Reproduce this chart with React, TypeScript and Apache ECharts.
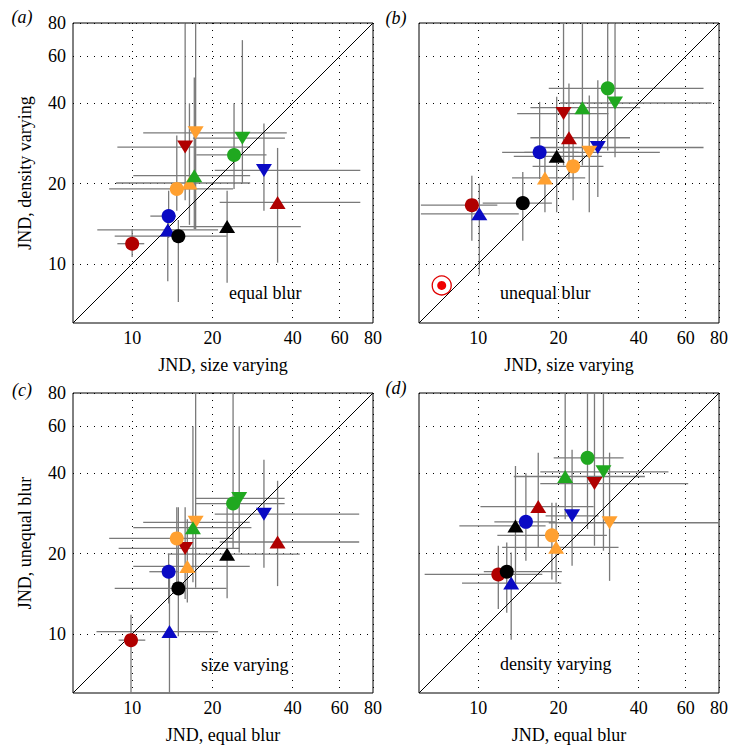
import React, { useEffect, useRef } from "react";
import * as echarts from "echarts";

// ---------- axis ----------
const TICKS = [10, 20, 40, 60, 80];
const AXIS_MIN = 6;
const AXIS_MAX = 80;

// ---------- conditions (marker colour + shape), same order in every panel ----------
const COND_COLOR = ["red", "red", "red", "blue", "blue", "blue", "black", "black", "orange", "orange", "orange", "green", "green", "green"];
const COND_SHAPE = ["circle", "up", "down", "circle", "up", "down", "circle", "up", "circle", "up", "down", "circle", "up", "down"];

// ---------- panel (a): size varying vs density varying, equal blur ----------
const A_X = [10, 35.1, 15.8, 13.7, 13.6, 31.2, 14.9, 22.7, 14.7, 16.4, 17.3, 24.1, 17.1, 25.9];
const A_Y = [11.9, 17.0, 27.4, 15.1, 13.4, 22.4, 12.7, 13.8, 19.1, 20.1, 31.0, 25.6, 21.4, 29.6];
const A_XLO = [8.8, 21.3, 8.8, 11.7, 7.4, 20.4, 8.6, 15.1, 8.2, 8.7, 11.0, 17.4, 10.1, 16.9];
const A_XHI = [11.1, 71.7, 27.7, 14.6, 21.0, 71.7, 22.6, 42.9, 23.9, 27.7, 38.0, 31.9, 27.7, 37.4];
const A_YLO = [10.6, 10.1, 17.3, 12.5, 8.6, 15.8, 7.2, 8.5, 15.8, 14.0, 13.5, 19.1, 13.5, 20.0];
const A_YHI = [13.5, 27.2, 80, 18.8, 15.5, 33.6, 14.6, 18.8, 30.3, 40, 80, 40, 50, 69];

// ---------- panel (b): size varying vs density varying, unequal blur ----------
const B_X = [9.47, 21.9, 20.9, 17.0, 10.1, 28.1, 14.7, 19.7, 22.7, 17.8, 26.1, 30.6, 24.6, 32.6];
const B_Y = [16.6, 29.7, 36.6, 26.2, 15.4, 27.3, 16.9, 25.3, 23.2, 21.0, 26.2, 45.5, 38.5, 40.1];
const B_XLO = [6.1, 15.7, 14.0, 12.3, 6.1, 17.7, 10.4, 13.6, 16.0, 13.4, 14.9, 18.4, 15.7, 20.3];
const B_XHI = [11.8, 37.1, 30.8, 23.8, 14.2, 70, 18.9, 29.1, 29.5, 25.2, 48, 70, 40.5, 75];
const B_YLO = [12.2, 20.8, 23.4, 20.8, 9.1, 17.8, 12.2, 15.6, 17.3, 15.6, 15.6, 26.6, 23.4, 25.1];
const B_YHI = [21.4, 47.4, 80, 40.5, 20, 48.8, 22.1, 42.3, 29.0, 27.0, 42.8, 80, 80, 80];
const B_OUTLIER = [7.3, 8.3];

// ---------- panel (c): size varying, equal vs unequal blur ----------
const C_X = [9.9, 35.1, 15.8, 13.7, 13.8, 31.2, 14.9, 22.7, 14.7, 16.1, 17.3, 23.9, 16.9, 25.2];
const C_Y = [9.47, 22.1, 20.9, 17.1, 10.2, 28.1, 14.8, 19.9, 22.8, 17.9, 26.2, 30.8, 25.0, 32.2];
const C_XLO = [8.9, 21.3, 8.9, 11.6, 7.35, 20.4, 8.6, 13.6, 8.2, 10.1, 11.0, 17.2, 10.1, 17.2];
const C_XHI = [11.2, 71, 25.3, 14.9, 21.0, 71, 22.6, 42.5, 23.9, 27.6, 27.6, 37.3, 28.0, 37.3];
const C_YLO = [6, 15.1, 13.5, 13, 6, 17.7, 9.8, 13.6, 14.7, 13.1, 14.9, 20.8, 15.6, 20.2];
const C_YHI = [11.8, 37.5, 29.8, 20, 18.2, 45, 29.8, 29.8, 29.8, 26.9, 80, 80, 60, 60];

// ---------- panel (d): density varying, equal vs unequal blur ----------
const D_X = [11.9, 16.8, 27.3, 15.1, 13.3, 22.5, 12.8, 13.8, 18.9, 19.6, 31.1, 25.7, 21.2, 29.5];
const D_Y = [16.7, 30.0, 36.6, 26.3, 15.5, 27.7, 17.1, 25.4, 23.4, 21.1, 26.1, 45.7, 38.9, 40.5];
const D_XLO = [6.3, 10.2, 17.1, 11.5, 8.7, 17.9, 10.5, 8.5, 11.8, 12.3, 18.4, 19.2, 13.6, 17.1];
const D_XHI = [17.4, 27.1, 61.3, 19.5, 20.5, 28.3, 20.6, 17.9, 30.4, 33.6, 80, 35.1, 42.2, 51.7];
const D_YLO = [12.4, 21.1, 21.4, 18.8, 9.5, 18.0, 12.0, 14.9, 16.0, 15.6, 15.8, 24.7, 26.9, 20.5];
const D_YHI = [21.4, 47.8, 80, 40.0, 20.2, 49, 22.0, 42.6, 31.0, 31.0, 47.8, 80, 80, 80];

const PANEL_LABELS = ["(a)", "(b)", "(c)", "(d)"];
const PANEL_NOTES = ["equal blur", "unequal blur", "size varying", "density varying"];
const X_NAMES = ["JND, size varying", "JND, size varying", "JND, equal blur", "JND, equal blur"];
const Y_NAMES = ["JND, density varying", "", "JND, unequal blur", ""];

const PANEL_DATA = [
  [A_X, A_Y, A_XLO, A_XHI, A_YLO, A_YHI],
  [B_X, B_Y, B_XLO, B_XHI, B_YLO, B_YHI],
  [C_X, C_Y, C_XLO, C_XHI, C_YLO, C_YHI],
  [D_X, D_Y, D_XLO, D_XHI, D_YLO, D_YHI],
];

const COLOR_MAP: Record<string, string> = {
  red: "#b00000",
  blue: "#0a0ac4",
  black: "#000000",
  orange: "#ffa030",
  green: "#20a820",
};

const FONT = "Liberation Serif";

export default function App() {
  const ref = useRef<HTMLDivElement>(null);

  useEffect(() => {
    if (!ref.current) return;
    const chart = echarts.init(ref.current, undefined, { renderer: "svg" });

    const gridPos = [
      { left: 73, top: 23 },
      { left: 419, top: 23 },
      { left: 73, top: 393 },
      { left: 419, top: 393 },
    ];

    const grids = gridPos.map((g) => ({
      left: g.left,
      top: g.top,
      width: 300,
      height: 300,
      show: true,
      borderColor: "#000",
      borderWidth: 1,
      backgroundColor: "transparent",
      containLabel: false,
    }));

    const baseAxis = (i: number, name: string, showLabel: boolean, isX: boolean) => ({
      type: "log",
      logBase: 10,
      gridIndex: i,
      min: AXIS_MIN,
      max: AXIS_MAX,
      name,
      nameLocation: "middle",
      nameGap: isX ? 33 : 39,
      nameTextStyle: { fontFamily: FONT, fontSize: 18, color: "#000" },
      axisLine: { show: false },
      axisTick: { show: false, customValues: TICKS },
      axisLabel: {
        show: showLabel,
        customValues: TICKS,
        fontFamily: FONT,
        fontSize: 18,
        color: "#000",
        margin: isX ? 6 : 7,
        formatter: (v: number) => String(Math.round(v)),
      },
      minorTick: { show: false },
      splitLine: {
        show: true,
        lineStyle: { type: [1, 6], color: "#000", width: 1 },
      },
    });

    const xAxes = [0, 1, 2, 3].map((i) => baseAxis(i, X_NAMES[i], true, true));
    const yAxes = [0, 1, 2, 3].map((i) => baseAxis(i, Y_NAMES[i], i === 0 || i === 2, false));

    const series: any[] = [];

    PANEL_DATA.forEach((pd, i) => {
      const [X, Y, XLO, XHI, YLO, YHI] = pd;
      const errData = X.map((x, k) => [x, Y[k], XLO[k], XHI[k], YLO[k], YHI[k]]);

      series.push({
        type: "custom",
        xAxisIndex: i,
        yAxisIndex: i,
        z: 2,
        silent: true,
        clip: true,
        encode: { x: [0, 2, 3], y: [1, 4, 5] },
        data: errData,
        renderItem: (params: any, api: any) => {
          const x = api.value(0);
          const y = api.value(1);
          const l = api.coord([api.value(2), y]);
          const r = api.coord([api.value(3), y]);
          const b = api.coord([x, api.value(4)]);
          const t = api.coord([x, api.value(5)]);
          const st = { stroke: "#7a7a7a", lineWidth: 1.3 };
          return {
            type: "group",
            children: [
              { type: "line", shape: { x1: l[0], y1: l[1], x2: r[0], y2: r[1] }, style: st },
              { type: "line", shape: { x1: b[0], y1: b[1], x2: t[0], y2: t[1] }, style: st },
            ],
          };
        },
      });

      series.push({
        type: "line",
        xAxisIndex: i,
        yAxisIndex: i,
        z: 3,
        silent: true,
        symbol: "none",
        lineStyle: { color: "#000", width: 1 },
        data: [
          [AXIS_MIN, AXIS_MIN],
          [AXIS_MAX, AXIS_MAX],
        ],
      });

      series.push({
        type: "scatter",
        xAxisIndex: i,
        yAxisIndex: i,
        z: 5,
        silent: true,
        itemStyle: { opacity: 1 },
        data: X.map((x, k) => {
          const shape = COND_SHAPE[k];
          return {
            value: [x, Y[k]],
            symbol: shape === "circle" ? "circle" : "triangle",
            symbolRotate: shape === "down" ? 180 : 0,
            symbolSize: shape === "circle" ? 14 : [16, 13],
            itemStyle: { color: COLOR_MAP[COND_COLOR[k]], opacity: 1 },
          };
        }),
      });
    });

    // special outlier in panel (b)
    series.push({
      type: "scatter",
      xAxisIndex: 1,
      yAxisIndex: 1,
      z: 5,
      silent: true,
      symbol: "circle",
      symbolSize: 19,
      itemStyle: { color: "#ffffff", borderColor: "#e00000", borderWidth: 1.3, opacity: 1 },
      data: [B_OUTLIER],
    });
    series.push({
      type: "scatter",
      xAxisIndex: 1,
      yAxisIndex: 1,
      z: 6,
      silent: true,
      symbol: "circle",
      symbolSize: 9,
      itemStyle: { color: "#f00000", opacity: 1 },
      data: [B_OUTLIER],
    });

    const labelPos = [
      [22, 17],
      [396, 18],
      [22, 390],
      [396, 388],
    ];
    const notePos = [
      [229, 293],
      [500, 293],
      [201, 665],
      [500, 664],
    ];

    const graphics: any[] = [];
    PANEL_LABELS.forEach((lab, i) => {
      graphics.push({
        type: "text",
        x: labelPos[i][0],
        y: labelPos[i][1],
        silent: true,
        style: {
          text: lab,
          fontFamily: FONT,
          fontSize: 18,
          fontStyle: "italic",
          fill: "#000",
          align: "center",
          verticalAlign: "middle",
        },
      });
      graphics.push({
        type: "text",
        x: notePos[i][0],
        y: notePos[i][1],
        silent: true,
        z: 10,
        style: {
          text: PANEL_NOTES[i],
          fontFamily: FONT,
          fontSize: 18,
          fill: "#000",
          align: "left",
          verticalAlign: "middle",
        },
      });
    });

    chart.setOption({
      animation: false,
      backgroundColor: "#ffffff",
      grid: grids,
      xAxis: xAxes,
      yAxis: yAxes,
      series,
      graphic: graphics,
    });

    return () => chart.dispose();
  }, []);

  return (
    <div
      ref={ref}
      style={{ position: "absolute", left: 0, top: 0, width: 740, height: 756 }}
    />
  );
}
